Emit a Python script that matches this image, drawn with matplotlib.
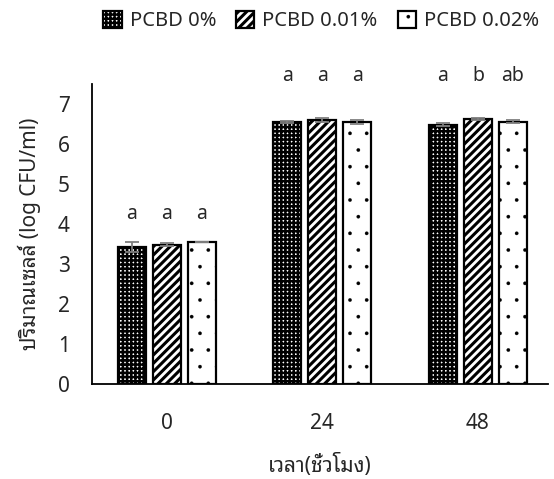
import matplotlib
matplotlib.use("Agg")
from matplotlib import pyplot as plt
import numpy as np

# data
times = ["0", "24", "48"]
series = ["PCBD 0%", "PCBD 0.01%", "PCBD 0.02%"]
pcbd_0 = [3.42, 6.55, 6.48]
pcbd_001 = [3.48, 6.60, 6.63]
pcbd_002 = [3.55, 6.55, 6.56]
err_0 = [0.12, 0.03, 0.04]
err_001 = [0.04, 0.04, 0.02]
err_002 = [0.01, 0.04, 0.04]
letters_0 = ["a", "a", "a"]
letters_001 = ["a", "a", "b"]
letters_002 = ["a", "a", "ab"]
letter_height = [4.25, 7.7, 7.7]  # where the letters sit, per time point

plt.rcParams["font.family"] = ["Noto Sans", "Noto Sans Thai Looped"]

fig = plt.figure(figsize=(5.54, 4.79), dpi=100)
ax = fig.add_axes([92 / 554, 1 - 384 / 479, 456 / 554, 300 / 479])

x = np.arange(len(times))
step = 0.225
width = 0.18

hatches = ["++++", "////", "."]
hatch_lw = [1.8, 2.2, 0.2]
values = [pcbd_0, pcbd_001, pcbd_002]
errors = [err_0, err_001, err_002]
letters = [letters_0, letters_001, letters_002]
txt = "#262626"

handles = []
for i in range(3):
    plt.rcParams["hatch.linewidth"] = hatch_lw[i]
    pos = x + (i - 1) * step
    bars = ax.bar(pos, values[i], width, color="white", edgecolor="black",
                  linewidth=1.6, hatch=hatches[i], label=series[i])
    ax.errorbar(pos, values[i], yerr=errors[i], fmt="none", ecolor="#7f7f7f",
                elinewidth=1.3, capsize=5, capthick=1.3)
    for p, h, t in zip(pos, letter_height, letters[i]):
        ax.text(p, h, t, ha="center", va="center", fontsize=14, color=txt)
    handles.append(bars)

ax.set_xlim(-0.48, 2.45)
ax.set_ylim(0, 7.5)
ax.set_yticks(range(0, 8))
ax.set_xticks(x)
ax.set_xticklabels(times)
ax.tick_params(length=0, labelsize=15, colors=txt)
ax.tick_params(axis="x", pad=21)
ax.tick_params(axis="y", pad=16)
for s in ["top", "right"]:
    ax.spines[s].set_visible(False)
ax.spines["left"].set_linewidth(1.3)
ax.spines["bottom"].set_linewidth(1.3)

ax.set_xlabel("เวลา(ชั่วโมง)", fontsize=15, color=txt, labelpad=14)
ax.set_ylabel("ปริมาณเซลล์ (log CFU/ml)", fontsize=15, color=txt,
              labelpad=12)

leg = fig.legend(handles=handles, labels=series, loc="center",
                 bbox_to_anchor=(0.58, 1 - 21 / 479), ncol=3, frameon=False,
                 fontsize=14.5, handlelength=0.9, handleheight=0.9,
                 handletextpad=0.4, columnspacing=1.0, labelcolor=txt)
# legend patches are made after the loop, give them the same hatch widths
for patch, lw in zip(leg.get_patches(), hatch_lw):
    if hasattr(patch, "set_hatch_linewidth"):
        patch.set_hatch_linewidth(lw)
    else:
        patch._hatch_linewidth = lw

fig.savefig("out.png")
